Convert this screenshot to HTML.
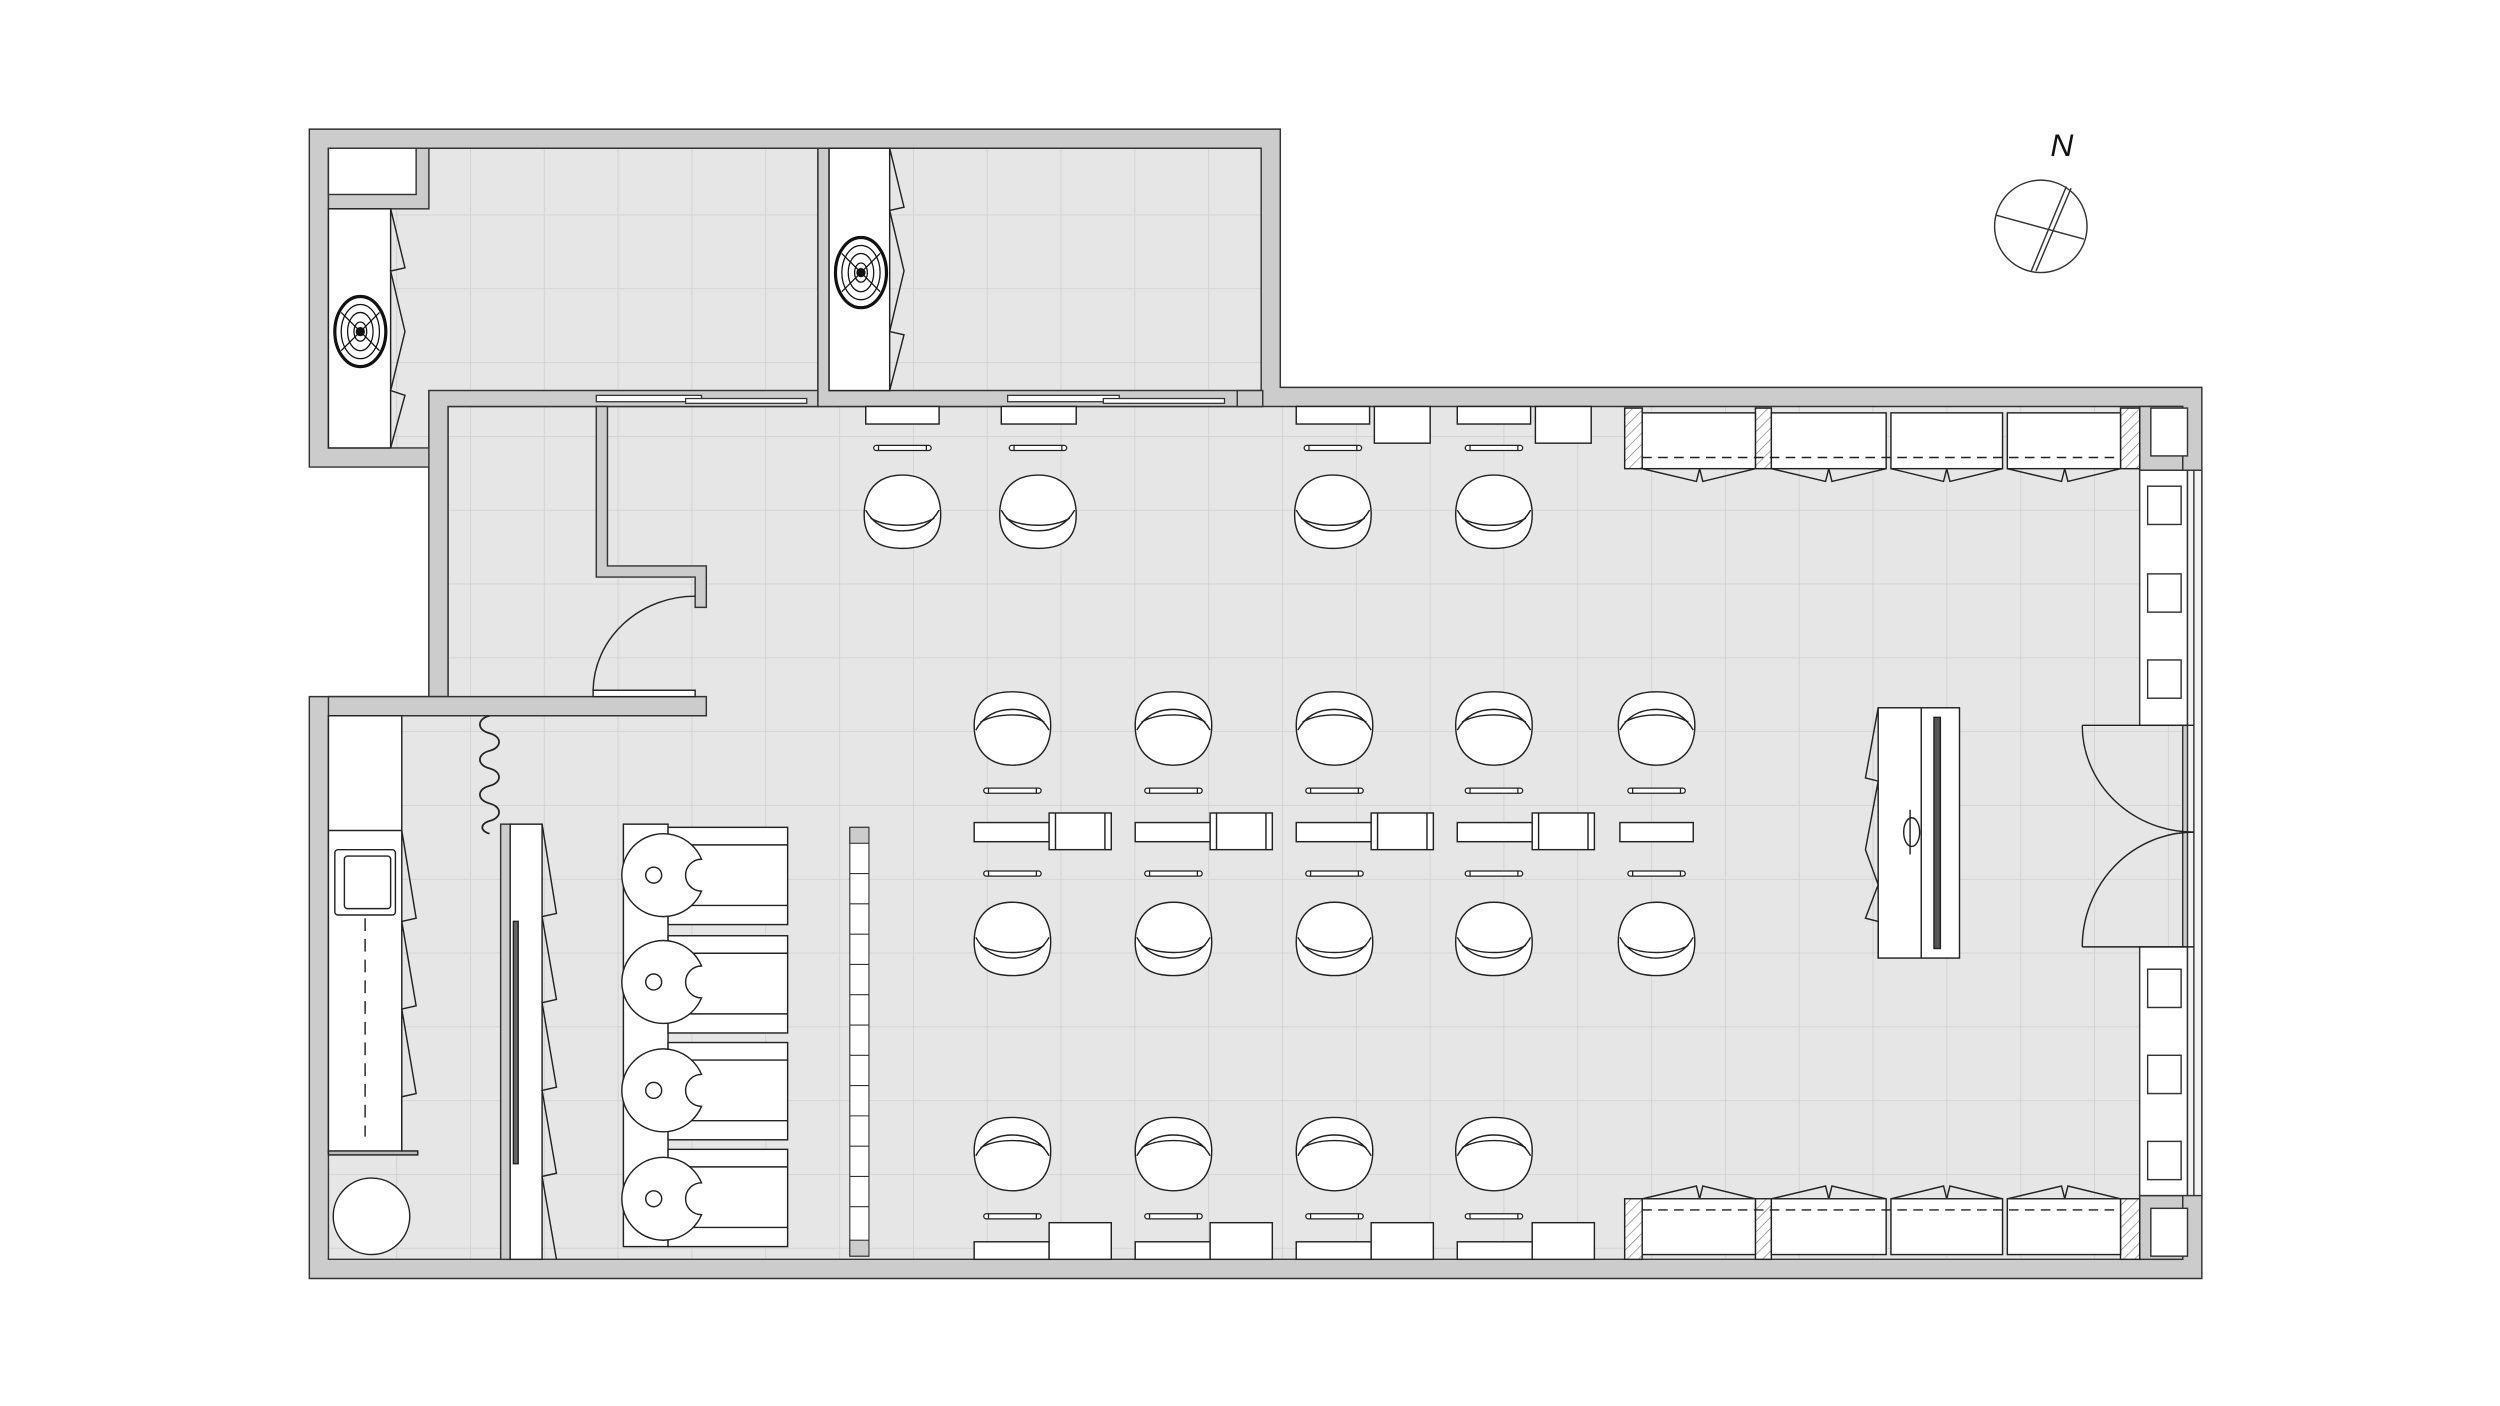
<!DOCTYPE html>
<html><head><meta charset="utf-8"><style>html,body{margin:0;padding:0;background:#fff}svg{display:block}</style></head>
<body>
<svg width="2500" height="1406" viewBox="0 0 1568 882" preserveAspectRatio="none" xmlns="http://www.w3.org/2000/svg">
<defs>
<pattern id="grid" patternUnits="userSpaceOnUse" width="46.3" height="46.3" x="17" y="42">
<rect width="46.3" height="46.3" fill="#e6e6e6"/>
<path d="M0,0 H46.3 M0,0 V46.3" stroke="#cfcfcf" stroke-width="1"/>
</pattern>
<pattern id="hatch" patternUnits="userSpaceOnUse" width="5" height="5" patternTransform="rotate(45)">
<rect width="5" height="5" fill="#fff"/><path d="M0,0 V5" stroke="#777" stroke-width="0.8"/>
</pattern>
<g id="ch" fill="#fff" stroke="#222" stroke-width="0.9">
<path d="M-24,-2 C-24,-19 -13,-23 0,-23 C13,-23 24,-19 24,-2 C24,14 15,23 0,23 C-15,23 -24,14 -24,-2 Z"/>
<path d="M-23,1 C-18,-8 -10,-12 0,-12 C10,-12 18,-8 23,1" fill="none"/>
<path d="M-20,-4 C-10,-10 10,-10 20,-4" fill="none"/>
</g>
<g id="fr" fill="#fff" stroke="#222" stroke-width="0.8">
<rect x="-18" y="-1.6" width="36" height="3.2" rx="1.6"/>
<path d="M-15,-1.6 V1.6 M15,-1.6 V1.6" fill="none"/>
</g>
<g id="wash" stroke="#222" stroke-width="0.9" fill="#fff">
<path d="M24,-10 A26,26 0 1,0 24,10 A10,10 0 0,1 24,-10 Z"/>
<circle cx="-6" cy="0" r="5"/>
</g>
<g id="sink" fill="#fff" stroke="#111" stroke-width="0.8">
<ellipse rx="16" ry="22" stroke-width="2"/>
<ellipse rx="12" ry="17"/><ellipse rx="8" ry="12"/><ellipse rx="4" ry="6"/>
<path d="M-12,-12 L12,12 M-12,12 L12,-12" />
<circle r="2.5" fill="#111"/>
</g>
</defs>

<path d="M194,81 H803 V243 H1381 V802 H194 V437 H269 V293 H194 Z" fill="#cccccc" stroke="#333" stroke-width="0.9"/>

<g fill="url(#grid)" stroke="#333" stroke-width="0.9">
<path d="M206,93 H513 V245 H269 V281 H206 Z"/>
<path d="M520,93 H791 V245 H520 Z"/>
<path d="M281,255 H1369 V790 H206 V449 H281 Z"/>
</g>
<g fill="#cccccc" stroke="#333" stroke-width="0.9">
<path d="M269,245 H513 V255 H281 V437 H269 Z"/>
<path d="M513,93 H520 V245 H791 V255 H513 Z"/>
<rect x="776" y="245" width="16" height="10"/>
<path d="M374,255 H381 V355 H443 V381 H436 V362 H374 Z"/>
<path d="M206,437 H443 V449 H206 Z"/>
<rect x="206" y="93" width="63" height="38"/>
<rect x="314" y="517" width="6" height="273"/>
<rect x="1342" y="255" width="27" height="40"/>
<rect x="1342" y="750" width="27" height="40"/>
</g>
<rect x="206" y="93" width="55" height="29" fill="#fff" stroke="#333" stroke-width="0.9"/>
<rect x="1349" y="256" width="23" height="30" fill="#fff" stroke="#333" stroke-width="0.9"/>
<rect x="1349" y="758" width="23" height="30" fill="#fff" stroke="#333" stroke-width="0.9"/>

<g fill="#fff" stroke="#333" stroke-width="0.8">
<rect x="374" y="248" width="66" height="4"/><rect x="430" y="250" width="76" height="3"/>
<rect x="632" y="248" width="70" height="4"/><rect x="692" y="250" width="76" height="3"/>
</g>
<g fill="none" stroke="#222" stroke-width="0.9">
<rect x="372" y="433" width="64" height="4" fill="#fff"/>
<path d="M372,433 A64,60 0 0,1 436,374"/>
</g>

<g fill="#fff" stroke="#222" stroke-width="0.9">
<rect x="206" y="131" width="39" height="150"/>
<path d="M245,131 L254,168 L245,170 L254,208 L245,245 L254,248 L245,281" fill="none"/>
<rect x="520" y="93" width="38" height="152"/>
<path d="M558,93 L567,130 L558,132 L567,170 L558,208 L567,210 L558,245" fill="none"/>
</g>
<use href="#sink" x="226" y="208"/>
<use href="#sink" x="540" y="171"/>

<g fill="#fff" stroke="#222" stroke-width="0.9">
<rect x="543" y="255" width="46" height="11"/>
<rect x="628" y="255" width="47" height="11"/>
<rect x="813" y="255" width="46" height="11"/><rect x="862" y="255" width="35" height="23"/>
<rect x="914" y="255" width="46" height="11"/><rect x="963" y="255" width="35" height="23"/>
</g>
<use href="#fr" x="566" y="281"/><use href="#fr" x="651" y="281"/><use href="#fr" x="836" y="281"/><use href="#fr" x="937" y="281"/>
<use href="#ch" transform="translate(566,321) scale(1,-1)"/>
<use href="#ch" transform="translate(651,321) scale(1,-1)"/>
<use href="#ch" transform="translate(836,321) scale(1,-1)"/>
<use href="#ch" transform="translate(937,321) scale(1,-1)"/>

<g>
<use href="#ch" x="635" y="457"/><use href="#ch" x="736" y="457"/><use href="#ch" x="837" y="457"/><use href="#ch" x="937" y="457"/><use href="#ch" x="1039" y="457"/>
<use href="#fr" x="635" y="496"/><use href="#fr" x="736" y="496"/><use href="#fr" x="837" y="496"/><use href="#fr" x="937" y="496"/><use href="#fr" x="1039" y="496"/>
<use href="#fr" x="635" y="548"/><use href="#fr" x="736" y="548"/><use href="#fr" x="837" y="548"/><use href="#fr" x="937" y="548"/><use href="#fr" x="1039" y="548"/>
<use href="#ch" transform="translate(635,589) scale(1,-1)"/>
<use href="#ch" transform="translate(736,589) scale(1,-1)"/>
<use href="#ch" transform="translate(837,589) scale(1,-1)"/>
<use href="#ch" transform="translate(937,589) scale(1,-1)"/>
<use href="#ch" transform="translate(1039,589) scale(1,-1)"/>
</g>
<g fill="#fff" stroke="#222" stroke-width="0.9">
<rect x="611" y="516" width="47" height="12"/><rect x="658" y="510" width="39" height="23"/><path d="M662,510 V533 M693,510 V533"/>
<rect x="712" y="516" width="47" height="12"/><rect x="759" y="510" width="39" height="23"/><path d="M763,510 V533 M794,510 V533"/>
<rect x="813" y="516" width="47" height="12"/><rect x="860" y="510" width="39" height="23"/><path d="M864,510 V533 M895,510 V533"/>
<rect x="914" y="516" width="47" height="12"/><rect x="961" y="510" width="39" height="23"/><path d="M965,510 V533 M996,510 V533"/>
<rect x="1016" y="516" width="46" height="12"/>
</g>

<use href="#ch" x="635" y="724"/><use href="#ch" x="736" y="724"/><use href="#ch" x="837" y="724"/><use href="#ch" x="937" y="724"/>
<use href="#fr" x="635" y="763"/><use href="#fr" x="736" y="763"/><use href="#fr" x="837" y="763"/><use href="#fr" x="937" y="763"/>
<g fill="#fff" stroke="#222" stroke-width="0.9">
<rect x="611" y="779" width="47" height="11"/><rect x="658" y="767" width="39" height="23"/>
<rect x="712" y="779" width="47" height="11"/><rect x="759" y="767" width="39" height="23"/>
<rect x="813" y="779" width="47" height="11"/><rect x="860" y="767" width="39" height="23"/>
<rect x="914" y="779" width="47" height="11"/><rect x="961" y="767" width="39" height="23"/>
</g>

<g fill="#fff" stroke="#222" stroke-width="0.9">
<rect x="1178" y="444" width="51" height="157"/>
<path d="M1205,444 V601"/>
<rect x="1213" y="450" width="4" height="145" fill="#555"/>
<path d="M1178,444 L1170,488 L1178,490 L1170,533 L1178,555 L1170,576 L1178,578 L1178,601" fill="none"/>
<ellipse cx="1199" cy="522" rx="5" ry="9"/><path d="M1198,508 V536"/>
</g>

<g fill="#fff" stroke="#333" stroke-width="0.9">
<rect x="1342" y="295" width="30" height="160"/>
<rect x="1342" y="594" width="30" height="156"/>
<rect x="1372" y="295" width="9" height="455" fill="#f4f4f4"/>
<path d="M1376,295 V750"/>
<rect x="1347" y="305" width="21" height="24"/><rect x="1347" y="360" width="21" height="24"/><rect x="1347" y="414" width="21" height="24"/>
<rect x="1347" y="608" width="21" height="24"/><rect x="1347" y="662" width="21" height="24"/><rect x="1347" y="716" width="21" height="24"/>
</g>
<g fill="none" stroke="#222" stroke-width="0.9">
<path d="M1306,455 H1376 M1306,594 H1376"/>
<path d="M1306,455 A70,67 0 0,0 1376,522"/>
<path d="M1306,594 A70,72 0 0,1 1376,522"/>
</g>

<g stroke="#222" stroke-width="0.9">
<rect x="1019" y="256" width="11" height="38" fill="url(#hatch)"/>
<rect x="1101" y="256" width="10" height="38" fill="url(#hatch)"/>
<rect x="1330" y="256" width="12" height="38" fill="url(#hatch)"/>
<g fill="#fff">
<rect x="1030" y="259" width="71" height="35"/><rect x="1111" y="259" width="72" height="35"/>
<rect x="1186" y="259" width="70" height="35"/><rect x="1259" y="259" width="71" height="35"/>
</g>
<path d="M1030,287 H1330" stroke-dasharray="6,4" fill="none"/>
<path d="M1030,294 L1064,302 L1066,294 L1068,302 L1101,294 M1111,294 L1145,302 L1147,294 L1149,302 L1183,294 M1186,294 L1219,302 L1221,294 L1223,302 L1256,294 M1259,294 L1293,302 L1295,294 L1297,302 L1330,294" fill="none"/>
</g>
<g stroke="#222" stroke-width="0.9">
<rect x="1019" y="752" width="11" height="38" fill="url(#hatch)"/>
<rect x="1101" y="752" width="10" height="38" fill="url(#hatch)"/>
<rect x="1330" y="752" width="12" height="38" fill="url(#hatch)"/>
<g fill="#fff">
<rect x="1030" y="752" width="71" height="35"/><rect x="1111" y="752" width="72" height="35"/>
<rect x="1186" y="752" width="70" height="35"/><rect x="1259" y="752" width="71" height="35"/>
</g>
<path d="M1030,759 H1330" stroke-dasharray="6,4" fill="none"/>
<path d="M1030,752 L1064,744 L1066,752 L1068,744 L1101,752 M1111,752 L1145,744 L1147,752 L1149,744 L1183,752 M1186,752 L1219,744 L1221,752 L1223,744 L1256,752 M1259,752 L1293,744 L1295,752 L1297,744 L1330,752" fill="none"/>
</g>

<g fill="#fff" stroke="#222" stroke-width="0.9">
<rect x="206" y="449" width="46" height="274"/>
<path d="M206,521 H252"/>
<rect x="210" y="533" width="38" height="41" rx="2"/>
<rect x="216" y="537" width="29" height="33" rx="2"/>
<path d="M229,576 V713" stroke-dasharray="8,5" fill="none"/>
<path d="M252,521 L261,576 L252,578 L261,631 L252,633 L261,686 L252,688 L252,723" fill="none"/>
<rect x="206" y="722" width="56" height="2.5" fill="#bbb"/>
<circle cx="233" cy="763" r="24"/>
<path d="M307,449 c-8,2 -8,9 0,11 c8,2 8,9 0,11 c-8,2 -8,9 0,11 c8,2 8,9 0,11 c-8,2 -8,9 0,11 c8,2 8,9 0,11 c-6,2 -6,6 0,8" fill="none" stroke-width="1.1"/>
<rect x="320" y="517" width="20" height="273"/>
<path d="M340,517 L349,573 L340,575 L349,627 L340,629 L349,682 L340,684 L349,736 L340,738 L349,790" fill="none"/>
<rect x="322" y="578" width="3" height="152" fill="#666"/>
</g>
<g fill="#fff" stroke="#222" stroke-width="0.9">
<rect x="391" y="517" width="28" height="265"/>
<rect x="419" y="519" width="75" height="61"/><path d="M419,530 H494 M419,568 H494"/>
<rect x="419" y="587" width="75" height="61"/><path d="M419,598 H494 M419,636 H494"/>
<rect x="419" y="654" width="75" height="61"/><path d="M419,665 H494 M419,703 H494"/>
<rect x="419" y="721" width="75" height="61"/><path d="M419,732 H494 M419,770 H494"/>
</g>
<use href="#wash" x="416" y="549"/><use href="#wash" x="416" y="616"/><use href="#wash" x="416" y="684"/><use href="#wash" x="416" y="752"/>
<g fill="#fff" stroke="#333" stroke-width="0.7">
<rect x="533" y="519" width="12" height="269"/>
<rect x="533" y="519" width="12" height="10" fill="#ccc"/>
<rect x="533" y="778" width="12" height="10" fill="#ccc"/>
<path d="M533,548 H545 M533,567 H545 M533,586 H545 M533,605 H545 M533,624 H545 M533,643 H545 M533,662 H545 M533,681 H545 M533,700 H545 M533,719 H545 M533,738 H545 M533,757 H545"/>
</g>

<text x="1286" y="98" font-family="Liberation Sans, sans-serif" font-style="italic" font-size="20" fill="#111">N</text>
<g fill="none" stroke="#333" stroke-width="0.9">
<circle cx="1280" cy="142" r="29"/>
<path d="M1252,135 L1307,150 M1296,117 L1274,170 M1299,118 L1277,170"/>
</g>
</svg>
</body></html>
